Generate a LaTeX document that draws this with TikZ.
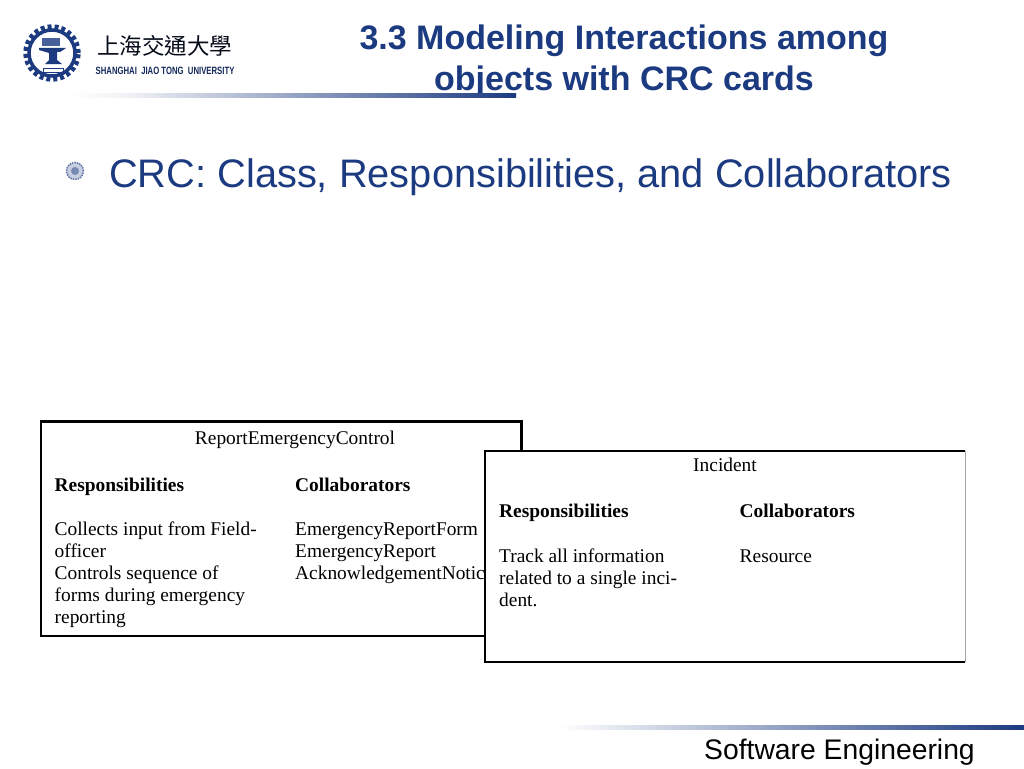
\documentclass[tikz,border=0pt]{standalone}
\usepackage{fontspec}
\setmainfont{Liberation Sans}
\newfontfamily\serifcard{Liberation Serif}
\newfontfamily\cjklogo{Noto Sans CJK TC}
\usetikzlibrary{shadings}
\definecolor{sjtublue}{RGB}{27,58,128}
\definecolor{rulefade}{RGB}{240,241,245}
\tikzset{
  x=1pt,y=-1pt,
  card/.style={draw=black,line width=2.4pt,fill=white},
  cardtext/.style={anchor=base west,inner sep=0pt,font=\serifcard\fontsize{19.4}{22}\selectfont,text=black},
  cardbold/.style={cardtext,font=\serifcard\bfseries\fontsize{19.4}{22}\selectfont},
  cardtitle/.style={cardtext,anchor=base},
  titletext/.style={anchor=base,inner sep=0pt,font=\bfseries\fontsize{34}{40}\selectfont,text=sjtublue},
  bodytext/.style={anchor=base west,inner sep=0pt,font=\fontsize{39.8}{46}\selectfont,text=sjtublue},
  foot/.style={anchor=base west,inner sep=0pt,font=\fontsize{28.3}{34}\selectfont,text=black},
  logotext/.style={anchor=base west,inner sep=0pt,text=sjtublue!70!black},
}
\begin{document}
\begin{tikzpicture}
\useasboundingbox[fill=white] (0,0) rectangle (1024,768);
% title
\node[titletext] (t1) at (624,49) {3.3 Modeling Interactions among};
\node[titletext] (t2) at (624,90) {objects with CRC cards};
% rules
\shade[left color=white,right color=rulefade] (70,93.5) rectangle (130,97);
\shade[left color=rulefade,right color=sjtublue] (130,93.5) rectangle (516,97);
\shade[left color=white,right color=sjtublue] (560,725.5) rectangle (1024,729);
% logo
\node[circle,draw=sjtublue,line width=4.5pt,dash pattern=on 4pt off 3pt,minimum size=53pt,inner sep=0pt] (gear) at (52,53) {};
\node[circle,draw=sjtublue,line width=3.5pt,minimum size=46pt,inner sep=0pt] (ring) at (52,53) {};
\fill[sjtublue] (39,48) -- (66,48) -- (60,52) -- (57,52) -- (57,60) -- (62,64) -- (45,64) -- (49,60) -- (49,53) -- (39,50) -- cycle;
\fill[sjtublue!80] (42,38) rectangle (60,46);
\draw[sjtublue,line width=1pt] (43,68) rectangle (63,72);
\node[logotext,font=\cjklogo\fontsize{22.5}{24}\selectfont,text=black!80!sjtublue] (cjk) at (97,55) {上海交通大學};
\node[logotext,font=\bfseries\fontsize{10.6}{12}\selectfont] (uni) at (95.5,74.5) {\scalebox{.73}[1]{SHANGHAI\ \ JIAO TONG\ \ UNIVERSITY}};
% bullet
\node[circle,draw=sjtublue!70,fill=sjtublue!25,line width=1.5pt,dash pattern=on 1.5pt off 1pt,minimum size=17pt,inner sep=0pt] (bul) at (75,171) {};
\node[circle,fill=sjtublue!60,minimum size=8pt,inner sep=0pt] (bulc) at (75,171) {};
\node[bodytext] (crc) at (109,187) {CRC: Class, Responsibilities, and Collaborators};
% card 1
\draw[card] (41,421.5) rectangle (521.5,636);
\node[cardtitle] (c1t) at (295,444.5) {ReportEmergencyControl};
\node[cardbold] (c1r) at (54.5,491.5) {Responsibilities};
\node[cardbold] (c1c) at (295,491.5) {Collaborators};
\node[cardtext] (c1a) at (54.5,535.5) {Collects input from Field-};
\node[cardtext] (c1b) at (54.5,557.5) {officer};
\node[cardtext] (c1d) at (54.5,579.5) {Controls sequence of};
\node[cardtext] (c1e) at (54.5,601.5) {forms during emergency};
\node[cardtext] (c1f) at (54.5,623.5) {reporting};
\node[cardtext] (c1g) at (295,535.5) {EmergencyReportForm};
\node[cardtext] (c1h) at (295,557.5) {EmergencyReport};
\node[cardtext] (c1i) at (295,579.5) {AcknowledgementNotice};
% card 2
\fill[white] (485,451) rectangle (965,662);
\draw[black,line width=2.4pt] (965,451) -- (485,451) -- (485,662) -- (965,662);
\draw[black!35,line width=.6pt] (965,451) -- (965,662);
\node[cardtitle] (c2t) at (725,471.5) {Incident};
\node[cardbold] (c2r) at (499,517.5) {Responsibilities};
\node[cardbold] (c2c) at (739.5,517.5) {Collaborators};
\node[cardtext] (c2a) at (499,562) {Track all information};
\node[cardtext] (c2b) at (499,584) {related to a single inci-};
\node[cardtext] (c2d) at (499,606) {dent.};
\node[cardtext] (c2g) at (739.5,562) {Resource};
% footer
\node[foot] (ft) at (704,759) {Software Engineering};
\end{tikzpicture}
\end{document}
